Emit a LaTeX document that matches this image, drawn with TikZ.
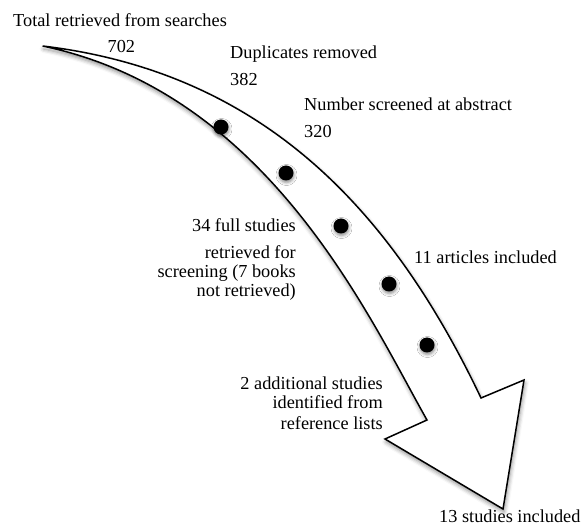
\documentclass[tikz,border=0pt]{standalone}
\usepackage{fontspec}
\setmainfont{Liberation Serif}
\usetikzlibrary{shadows.blur}
\begin{document}
\begin{tikzpicture}[x=1pt,y=-1pt,
  lbl/.style={inner sep=0pt, font=\fontsize{18.3}{19}\selectfont},
  lblL/.style={lbl, anchor=base west},
  lblR/.style={lbl, anchor=base east},
  stagedot/.style={circle, fill=black, minimum size=15pt, inner sep=0pt,
    blur shadow={shadow xshift=0.5pt, shadow yshift=-2pt, shadow blur radius=3pt, shadow opacity=45}},
  arrowbody/.style={draw=black, line width=1.5pt, fill=white,
    blur shadow={shadow xshift=1pt, shadow yshift=-3pt, shadow blur radius=4pt, shadow opacity=45}}]
\useasboundingbox (0,0) rectangle (581,526);
% arrow outline
\coordinate (tail) at (42.6,46);
\coordinate (uj) at (481,398);
\coordinate (rb) at (524,380);
\coordinate (tip) at (503,509);
\coordinate (lb) at (385,439);
\coordinate (lj) at (427,420);
\path[arrowbody] (tail) .. controls (262.6,72.4) and (391,209) .. (uj)
  -- (rb) -- (tip) -- (lb) -- (lj)
  .. controls (368.7,317) and (268,93) .. (tail) -- cycle;
% stage dots
\node[stagedot] (d1) at (221,127) {};
\node[stagedot] (d2) at (286,173) {};
\node[stagedot] (d3) at (341,226) {};
\node[stagedot] (d4) at (389,284) {};
\node[stagedot] (d5) at (427,345) {};
% labels
\node[lblL] (t1) at (13,26.5) {Total retrieved from searches};
\node[lblL] (n1) at (107.4,52.5) {702};
\node[lblL] (t2) at (230,59) {Duplicates removed};
\node[lblL] (n2) at (230,86) {382};
\node[lblL] (t3) at (304,111) {Number screened at abstract};
\node[lblL] (n3) at (304,138) {320};
\node[lblR] (t4) at (296,232) {34 full studies};
\node[lblR] (t4a) at (296,259) {retrieved for};
\node[lblR] (t4b) at (296,278) {screening (7 books};
\node[lblR] (t4c) at (296,297) {not retrieved)};
\node[lblL] (t5) at (414,264) {11 articles included};
\node[lblR] (t6) at (383,390) {2 additional studies};
\node[lblR] (t6a) at (383,409) {identified from};
\node[lblR] (t6b) at (383,429) {reference lists};
\node[lblL] (t7) at (439,522) {13 studies included};
\end{tikzpicture}
\end{document}
